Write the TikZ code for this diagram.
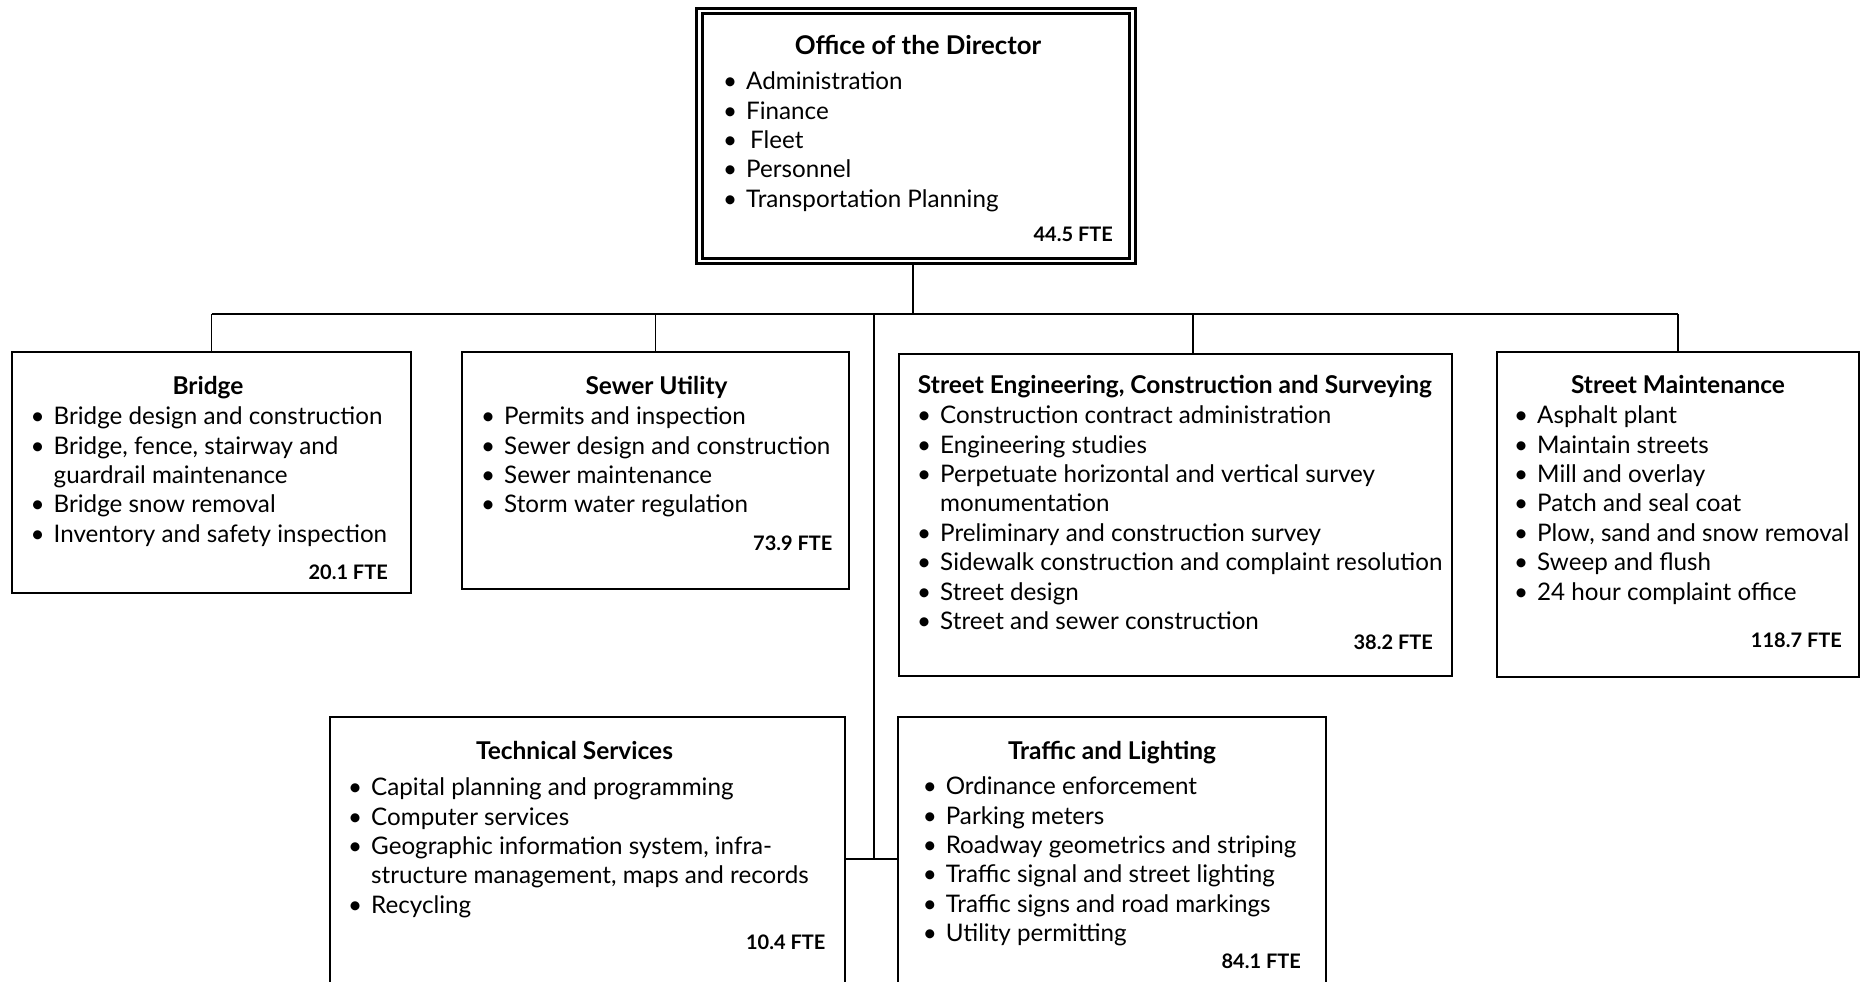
\documentclass[tikz,border=0pt]{standalone}
\usepackage{fontspec}
\setmainfont{Lato}
\newcommand{\bu}{\strut\llap{\textbullet\hspace{9pt}}}
\newcommand{\cn}{\strut}
\begin{document}
\begin{tikzpicture}[x=1pt,y=-1pt,
  box/.style={draw, line width=2pt, inner sep=0},
  ttl/.style={font=\fontsize{24.5}{29.4}\selectfont\bfseries, anchor=mid, inner sep=0, yshift=-6.5pt},
  lst/.style={font=\fontsize{24.2}{29.4}\selectfont, anchor=north west, inner sep=0, align=left, yshift=-4pt},
  fte/.style={font=\fontsize{20}{24}\selectfont\bfseries, anchor=mid east, inner sep=0, yshift=-6pt},
  conn/.style={line width=1.5pt}]
\useasboundingbox (0,0) rectangle (1865,982);
\clip (0,0) rectangle (1865,982);
% boxes
\node[draw, double, line width=3pt, double distance=2.5pt, inner sep=0, minimum width=433pt, minimum height=249.5pt] (dir) at (916,136) {};
\node[box, minimum width=399pt, minimum height=241pt] (bridge) at (211.5,472.5) {};
\node[box, minimum width=387pt, minimum height=237pt] (sewer) at (655.5,470.5) {};
\node[box, minimum width=553pt, minimum height=322pt] (seng) at (1175.5,515) {};
\node[box, minimum width=362pt, minimum height=325pt] (maint) at (1678,514.5) {};
\node[box, minimum width=515pt, minimum height=284pt] (tech) at (587.5,859) {};
\node[box, minimum width=428pt, minimum height=284pt] (traffic) at (1112,859) {};
% connectors
\coordinate (bus) at (913,314);
\coordinate (trunk) at (874,314);
\draw[conn] (bus |- dir.south) -- (bus);
\draw[conn] (bridge.north |- bus) -- (maint.north |- bus);
\draw[conn] (bridge.north) -- (bridge.north |- bus);
\draw[conn] (sewer.north) -- (sewer.north |- bus);
\draw[conn] ([xshift=17.5pt]seng.north) -- ([xshift=17.5pt]seng.north |- bus);
\draw[conn] (maint.north) -- (maint.north |- bus);
\draw[conn] (trunk) -- (trunk |- tech.east);
\draw[conn] (tech.east) -- (traffic.west);
% Director
\node[ttl, font=\fontsize{25.8}{29.4}\selectfont\bfseries] (dirT) at (918,45) {Office of the Director};
\node[lst] (dirL) at (746,65) {\bu Administration\\ \bu Finance\\ \bu \,Fleet\\ \bu Personnel\\ \bu Transportation Planning};
\node[fte] (dirF) at (1113,233) {44.5 FTE};
% Bridge
\node[ttl] (bridgeT) at (208,385) {Bridge};
\node[lst] (bridgeL) at (53.5,400) {\bu Bridge design and construction\\ \bu Bridge, fence, stairway and\\ \cn guardrail maintenance\\ \bu Bridge snow removal\\ \bu Inventory and safety inspection};
\node[fte] (bridgeF) at (388,571) {20.1 FTE};
% Sewer
\node[ttl] (sewerT) at (656.5,385) {Sewer Utility};
\node[lst] (sewerL) at (504,400) {\bu Permits and inspection\\ \bu Sewer design and construction\\ \bu Sewer maintenance\\ \bu Storm water regulation};
\node[fte] (sewerF) at (832.6,542) {73.9 FTE};
% Street Engineering
\node[ttl] (sengT) at (1175,384) {Street Engineering, Construction and Surveying};
\node[lst] (sengL) at (940,399) {\bu Construction contract administration\\ \bu Engineering studies\\ \bu Perpetuate horizontal and vertical survey\\ \cn monumentation\\ \bu Preliminary and construction survey\\ \bu Sidewalk construction and complaint resolution\\ \bu Street design\\ \bu Street and sewer construction};
\node[fte] (sengF) at (1433,641) {38.2 FTE};
% Street Maintenance
\node[ttl] (maintT) at (1678,384) {Street Maintenance};
\node[lst] (maintL) at (1537,399) {\bu Asphalt plant\\ \bu Maintain streets\\ \bu Mill and overlay\\ \bu Patch and seal coat\\ \bu Plow, sand and snow removal\\ \bu Sweep and flush\\ \bu 24 hour complaint office};
\node[fte] (maintF) at (1842,639) {118.7 FTE};
% Technical Services
\node[ttl] (techT) at (574.5,750.5) {Technical Services};
\node[lst] (techL) at (371,771) {\bu Capital planning and programming\\ \bu Computer services\\ \bu Geographic information system, infra-\\ \cn structure management, maps and records\\ \bu Recycling};
\node[fte] (techF) at (825.5,941) {10.4 FTE};
% Traffic and Lighting
\node[ttl] (trafficT) at (1112,750.5) {Traffic and Lighting};
\node[lst] (trafficL) at (945.6,770) {\bu Ordinance enforcement\\ \bu Parking meters\\ \bu Roadway geometrics and striping\\ \bu Traffic signal and street lighting\\ \bu Traffic signs and road markings\\ \bu Utility permitting};
\node[fte] (trafficF) at (1301,960) {84.1 FTE};
\end{tikzpicture}
\end{document}
